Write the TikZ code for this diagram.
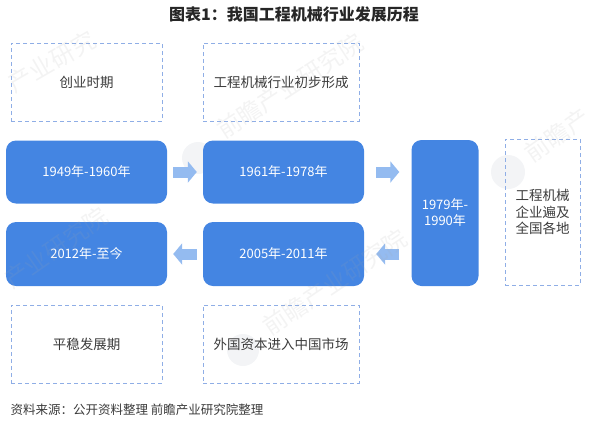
\documentclass[tikz,border=0pt]{standalone}
\usepackage{fontspec}
\setmainfont{Noto Sans CJK SC}
\usetikzlibrary{arrows.meta}
\definecolor{yearblue}{HTML}{4485E2}
\definecolor{arrowblue}{HTML}{94BBF0}
\definecolor{dashblue}{HTML}{8FAEE6}
\definecolor{labelgray}{HTML}{3A3A3A}
\definecolor{logogray}{HTML}{F3F4F6}
\newcommand{\widecolon}{\char"FF1A\relax}
\tikzset{
  yearbox/.style={fill=yearblue,draw=none,rounded corners=10pt,text=white,inner sep=0pt,align=center,font=\fontsize{13}{16}\selectfont},
  notebox/.style={draw=dashblue,line width=1pt,dash pattern=on 4pt off 3pt,text=labelgray,inner sep=0pt,align=center,font=\fontsize{13.5}{16.5}\selectfont},
  steparrow/.style={draw=arrowblue,line width=11pt,-{Triangle[length=9pt,width=21pt]}},
  watermark/.style={text=gray!70,opacity=0.13,inner sep=0pt,font=\fontsize{24}{26}\selectfont}
}
\begin{document}
\begin{tikzpicture}[x=1pt,y=-1pt]
  \useasboundingbox (0,0) rectangle (600,429);
  % logo marks behind the boxes
  \fill[logogray] (198,158) circle (16);
  \fill[logogray] (508,172) circle (17);
  \fill[logogray] (243,350) circle (16);
  \node[font=\bfseries\fontsize{16}{18}\selectfont,text=black!85] (title) at (294,14) {图表1\widecolon 我国工程机械行业发展历程};
  % upper notes
  \node[notebox,minimum width=151pt,minimum height=78pt] (early) at (86.5,82) {创业时期};
  \node[notebox,minimum width=156pt,minimum height=78pt] (forming) at (281,82) {工程机械行业初步形成};
  % year boxes
  \node[yearbox,minimum width=161pt,minimum height=63pt] (y1949) at (86.5,172) {1949年-1960年};
  \node[yearbox,minimum width=161pt,minimum height=63pt] (y1961) at (283.5,172) {1961年-1978年};
  \node[yearbox,minimum width=67pt,minimum height=146pt] (y1979) at (445,213) {1979年-\\1990年};
  \node[yearbox,minimum width=161pt,minimum height=64pt] (y2005) at (283.5,254) {2005年-2011年};
  \node[yearbox,minimum width=161pt,minimum height=64pt] (y2012) at (86.5,254) {2012年-至今};
  % right and lower notes
  \node[notebox,minimum width=75pt,minimum height=146pt] (spread) at (542.5,212) {工程机械\\企业遍及\\全国各地};
  \node[notebox,minimum width=151pt,minimum height=78pt] (steady) at (86.5,344) {平稳发展期};
  \node[notebox,minimum width=156pt,minimum height=78pt] (foreign) at (281,344) {外国资本进入中国市场};
  % arrows
  \draw[steparrow,shorten <=6pt,shorten >=6pt] (y1949.east |- 0,172) -- (y1961.west |- 0,172);
  \draw[steparrow,shorten <=12pt,shorten >=12pt] (y1961.east |- 0,172) -- (y1979.west |- 0,172);
  \draw[steparrow,shorten <=12pt,shorten >=12pt] (y1979.west |- 0,254) -- (y2005.east |- 0,254);
  \draw[steparrow,shorten <=6pt,shorten >=6pt] (y2005.west |- 0,254) -- (y2012.east |- 0,254);
  \node[font=\fontsize{12.5}{15}\selectfont,text=labelgray,anchor=west] (source) at (7,410) {资料来源\widecolon 公开资料整理 前瞻产业研究院整理};
  % faint marks across the sheet
  \node[watermark,rotate=30] (markA) at (52,62) {产业研究};
  \node[watermark,rotate=33] (markB) at (290,86) {前瞻产业研究院};
  \node[watermark,rotate=35] (markC) at (557,135) {前瞻产};
  \node[watermark,rotate=35] (markD) at (56,248) {产业研究院};
  \node[watermark,rotate=34] (markE) at (335,282) {前瞻产业研究院};
\end{tikzpicture}
\end{document}
